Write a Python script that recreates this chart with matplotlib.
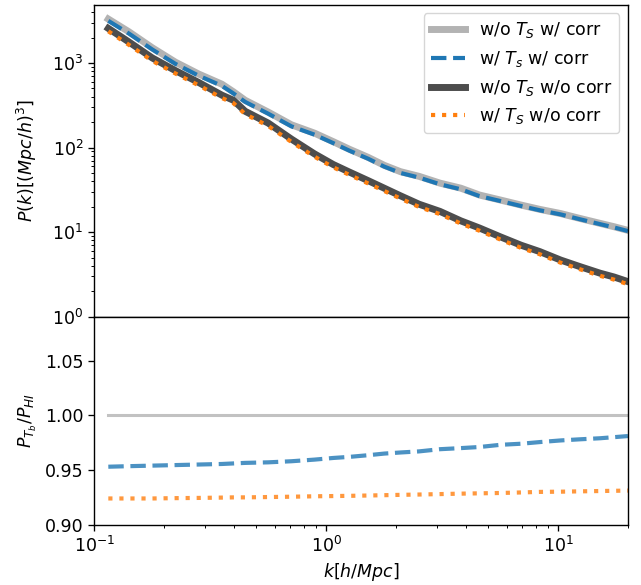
import matplotlib
matplotlib.use("Agg")
import matplotlib.pyplot as plt
import numpy as np

# ---- data ----
k = [0.115, 0.141, 0.178, 0.224, 0.282, 0.355, 0.398, 0.447, 0.562, 0.708,
     0.891, 1.072, 1.259, 1.514, 1.778, 2.089, 2.512, 3.090, 3.802, 4.571,
     5.623, 6.918, 8.318, 10.23, 12.30, 15.14, 17.38, 19.95]

# w/o T_S, with correlation (upper curve)
p_noTs_corr = [3311, 2344, 1514, 1023, 741, 562, 457, 363, 263, 186,
               148, 117.5, 95.5, 76.7, 61.7, 51.9, 45.7, 38.0, 33.1, 27.5,
               24.0, 20.9, 18.6, 16.6, 14.6, 12.7, 11.6, 10.5]

# w/o T_S, without correlation (lower curve)
p_noTs_nocorr = [2570, 1778, 1148, 813, 589, 417, 363, 269, 195, 126,
                 84.1, 63.1, 51.3, 40.7, 33.1, 26.9, 21.4, 17.6, 13.6, 11.2,
                 8.81, 7.00, 5.89, 4.68, 3.94, 3.27, 2.95, 2.60]

# ratios P_Tb / P_HI
ratio_ref = [1.0] * len(k)
ratio_Ts_corr = [0.953, 0.9535, 0.954, 0.9545, 0.955, 0.9555, 0.956, 0.9565, 0.957, 0.958,
                 0.9595, 0.961, 0.962, 0.9635, 0.965, 0.966, 0.967, 0.969, 0.970, 0.971,
                 0.973, 0.974, 0.9755, 0.977, 0.978, 0.979, 0.980, 0.981]
ratio_Ts_nocorr = [0.924, 0.924, 0.924, 0.9243, 0.9245, 0.9248, 0.925, 0.925, 0.9253, 0.9256,
                   0.926, 0.9262, 0.9264, 0.9267, 0.927, 0.9273, 0.9276, 0.928, 0.9284, 0.9287,
                   0.929, 0.9295, 0.930, 0.9302, 0.9305, 0.9308, 0.931, 0.9312]

labels = [r"w/o $T_S$ w/ corr", r"w/ $T_s$ w/ corr", r"w/o $T_S$ w/o corr", r"w/ $T_S$ w/o corr"]

k_arr = np.array(k)
p_Ts_corr = np.array(p_noTs_corr) * np.array(ratio_Ts_corr)
p_Ts_nocorr = np.array(p_noTs_nocorr) * np.array(ratio_Ts_nocorr)

plt.rcParams.update({
    "font.size": 12.5,
    "axes.linewidth": 1.0,
    "xtick.major.size": 4.3, "ytick.major.size": 4.3,
    "xtick.minor.size": 2.5, "ytick.minor.size": 2.5,
    "xtick.major.width": 0.95, "ytick.major.width": 0.95,
    "xtick.minor.width": 0.7, "ytick.minor.width": 0.7,
})

fig = plt.figure(figsize=(6.41, 5.85), dpi=100)
gs = fig.add_gridspec(2, 1, height_ratios=[3, 2], hspace=0,
                      left=0.147, right=0.980, top=0.992, bottom=0.103)
ax1 = fig.add_subplot(gs[0])
ax2 = fig.add_subplot(gs[1], sharex=ax1)

gray = "#b3b3b3"
dark = "#4d4d4d"
ax1.plot(k_arr, p_noTs_corr, color=gray, lw=5, label=labels[0])
ax1.plot(k_arr, p_Ts_corr, color="C0", lw=3, ls="--", label=labels[1])
ax1.plot(k_arr, p_noTs_nocorr, color=dark, lw=5, label=labels[2])
ax1.plot(k_arr, p_Ts_nocorr, color="C1", lw=3, ls=":", label=labels[3])
ax1.set_xscale("log")
ax1.set_yscale("log")
ax1.set_ylim(1, 4900)
ax1.set_xlim(0.1, 20)
ax1.set_ylabel(r"$P(k)[(Mpc/h)^3]$")
ax1.tick_params(axis="x", which="both", bottom=False, labelbottom=False)
ax1.legend(loc="upper right", fontsize=12.5)

ax2.plot(k_arr, ratio_ref, color=gray, lw=2.2, alpha=0.8)
ax2.plot(k_arr, ratio_Ts_corr, color="C0", lw=3, ls="--", alpha=0.8)
ax2.plot(k_arr, ratio_Ts_nocorr, color="C1", lw=3, ls=":", alpha=0.8)
ax2.set_ylim(0.9, 1.09)
ax2.set_yticks([0.90, 0.95, 1.00, 1.05])
ax2.set_xlabel(r"$k[h/Mpc]$")
ax2.set_ylabel(r"$P_{T_b}/P_{HI}$")

fig.align_ylabels([ax1, ax2])
fig.savefig("out.png", dpi=100)
